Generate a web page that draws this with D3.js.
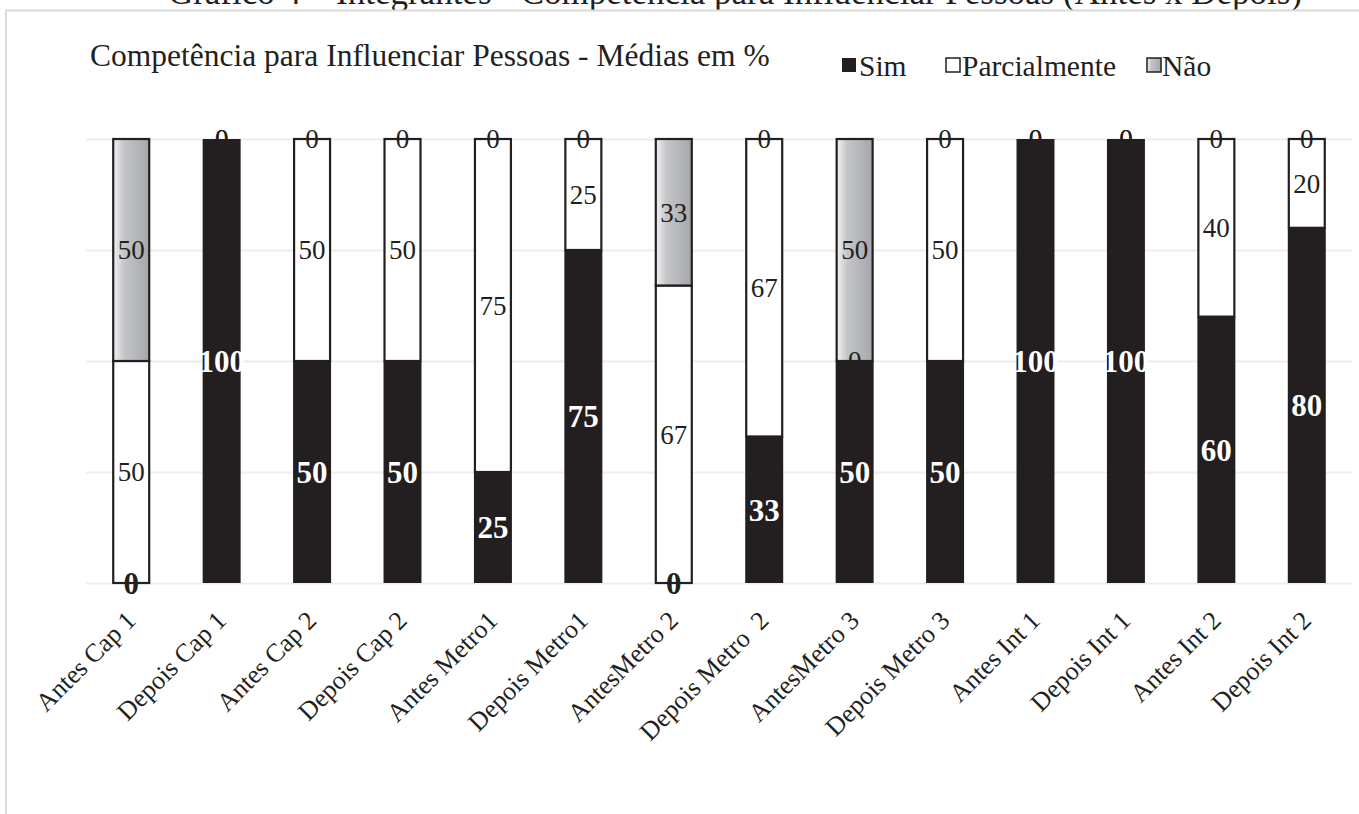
<!DOCTYPE html>
<html>
<head>
<meta charset="utf-8">
<script src="https://cdn.jsdelivr.net/npm/d3@7"></script>
<style>
  html, body { margin: 0; padding: 0; background: #fff; }
  svg { display: block; font-family: "Liberation Serif", "Times New Roman", serif; }
</style>
</head>
<body>
<svg id="chart" width="1359" height="814"></svg>
<script>
const categories = ["Antes Cap 1","Depois Cap 1","Antes Cap 2","Depois Cap 2","Antes Metro1","Depois Metro1","AntesMetro 2","Depois Metro  2","AntesMetro 3","Depois Metro 3","Antes Int 1","Depois Int 1","Antes Int 2","Depois Int 2"];
const simValues     = [0, 100, 50, 50, 25, 75, 0, 33, 50, 50, 100, 100, 60, 80];
const parcialValues = [50, 0, 50, 50, 75, 25, 67, 67, 0, 50, 0, 0, 40, 20];
const naoValues     = [50, 0, 0, 0, 0, 0, 33, 0, 50, 0, 0, 0, 0, 0];
const seriesNames = ["Sim", "Parcialmente", "Não"];
const yTicks = [0, 25, 50, 75, 100];
const chartTitle = "Competência para Influenciar Pessoas - Médias em %";
const figureCaption = "Gráfico 4 – Integrantes - Competência para Influenciar Pessoas (Antes x Depois)";

const rows = categories.map((c, i) => ({ cat: c, "Sim": simValues[i], "Parcialmente": parcialValues[i], "Não": naoValues[i] }));

const svg = d3.select("#chart");
const dark = "#231f20";

const defs = svg.append("defs");
const grad = defs.append("linearGradient").attr("id", "gray").attr("x1", "0%").attr("x2", "100%").attr("y1", "0%").attr("y2", "0%");
grad.append("stop").attr("offset", "0%").attr("stop-color", "#f2f2f3");
grad.append("stop").attr("offset", "30%").attr("stop-color", "#c4c5c8");
grad.append("stop").attr("offset", "100%").attr("stop-color", "#a6a7aa");

// caption, cut off at the top edge as in the source
svg.append("text").attr("x", 735).attr("y", 4).attr("text-anchor", "middle")
  .attr("font-size", 35).attr("fill", dark).text(figureCaption);

// frame
svg.append("rect").attr("x", 6).attr("y", 10.5).attr("width", 1420).attr("height", 900)
  .attr("fill", "#fff").attr("stroke", "#d9d9d9").attr("stroke-width", 2);

const x = d3.scaleBand().domain(categories).range([86, 1352]).paddingInner(0.58).paddingOuter(0.29);
const y = d3.scaleLinear().domain([0, 100]).range([583, 139]);

// gridlines
const grid = svg.append("g").attr("transform", "translate(86,0)")
  .call(d3.axisLeft(y).tickValues(yTicks).tickSize(-1266).tickFormat(""));
grid.select(".domain").remove();
grid.selectAll("line").attr("stroke", "#ededed").attr("stroke-width", 2);

// title
svg.append("text").attr("x", 90).attr("y", 66).attr("font-size", 31.5).attr("fill", dark).text(chartTitle);

// legend
const legendItems = [
  { name: "Sim", sx: 842, tx: 859 },
  { name: "Parcialmente", sx: 946, tx: 962 },
  { name: "Não", sx: 1147, tx: 1162 }
];
const fills = { "Sim": dark, "Parcialmente": "#ffffff", "Não": "url(#gray)" };
const lg = svg.append("g");
legendItems.forEach(it => {
  lg.append("rect").attr("x", it.sx).attr("y", 58).attr("width", 14).attr("height", 14)
    .attr("fill", fills[it.name]).attr("stroke", dark).attr("stroke-width", it.name === "Sim" ? 0 : 1.5);
  lg.append("text").attr("x", it.tx).attr("y", 76).attr("font-size", 29.5).attr("fill", dark).text(it.name);
});

// stacked bars
const stack = d3.stack().keys(seriesNames)(rows);
const barsG = svg.append("g");
stack.forEach(layer => {
  const key = layer.key;
  barsG.selectAll(null).data(layer).enter().append("rect")
    .attr("x", d => x(d.data.cat) + (key === "Sim" ? 0 : 1))
    .attr("width", d => x.bandwidth() - (key === "Sim" ? 0 : 2))
    .attr("y", d => y(d[1]))
    .attr("height", d => y(d[0]) - y(d[1]))
    .attr("fill", fills[key])
    .attr("stroke", key === "Sim" ? "none" : dark)
    .attr("stroke-width", 2.2)
    .attr("display", d => (d[1] - d[0]) > 0 ? null : "none");
});

// labels
const labG = svg.append("g");
stack.forEach(layer => {
  const key = layer.key;
  labG.selectAll(null).data(layer).enter().append("text")
    .attr("x", d => x(d.data.cat) + x.bandwidth() / 2)
    .attr("y", d => y((d[0] + d[1]) / 2))
    .attr("dy", "0.35em")
    .attr("text-anchor", "middle")
    .attr("font-size", key === "Sim" ? 31 : 27)
    .attr("font-weight", key === "Sim" ? "bold" : "normal")
    .attr("fill", d => (key === "Sim" && d.data[key] > 0) ? "#ffffff" : dark)
    .text(d => d.data[key]);
});

// x axis labels
const xa = svg.append("g").attr("transform", "translate(0,583)")
  .call(d3.axisBottom(x).tickSize(0));
xa.select(".domain").remove();
xa.selectAll("text")
  .attr("font-family", "Liberation Serif, Times New Roman, serif")
  .attr("font-size", 26)
  .attr("fill", dark)
  .style("white-space", "pre")
  .attr("text-anchor", "end")
  .attr("x", 0).attr("y", 0).attr("dy", 0)
  .attr("transform", "translate(6,39) rotate(-45)");
</script>
</body>
</html>
